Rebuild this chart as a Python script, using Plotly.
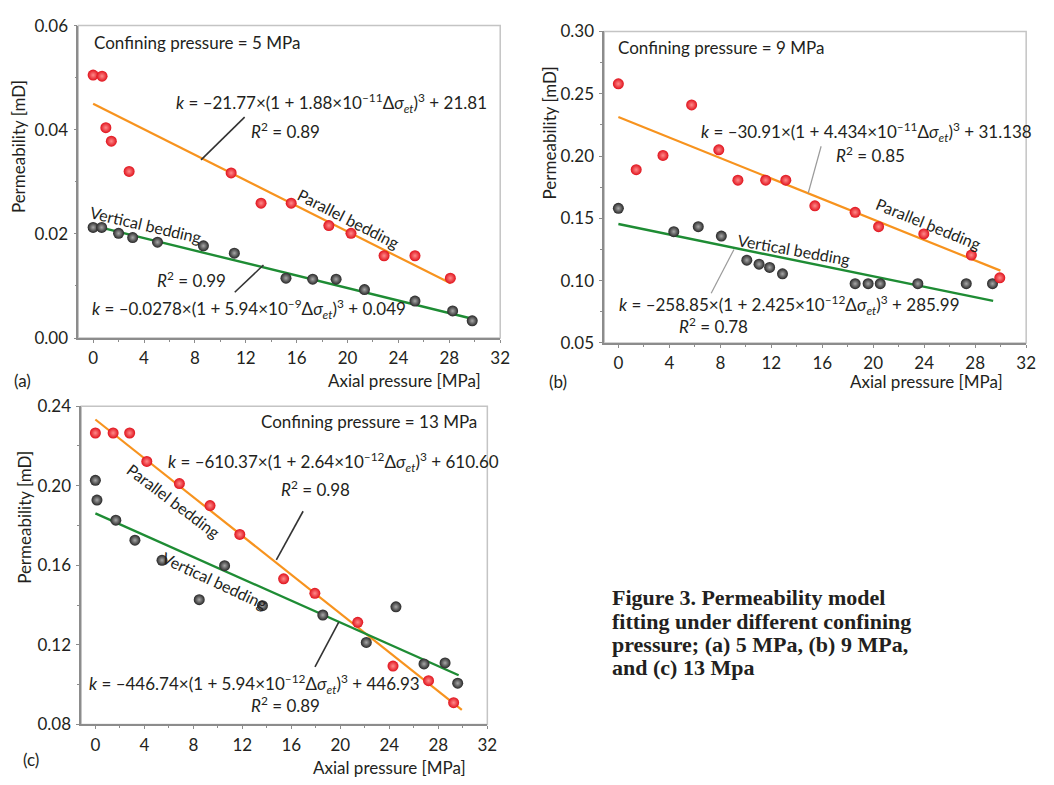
import plotly.graph_objects as go

W, H = 1054, 785
FONT = "Lato"
TXT = "#231f20"

# ---------------- data ----------------
# (a) confining pressure 5 MPa
a_par_x = [0, 0.7, 1.0, 1.43, 2.83, 10.85, 13.2, 15.57, 18.53, 20.27, 22.87, 25.3, 28.08]
a_par_y = [0.0505, 0.0503, 0.0404, 0.0378, 0.0320, 0.0317, 0.0259, 0.0259, 0.0216, 0.0201, 0.0158, 0.0158, 0.0115]
a_ver_x = [0, 0.67, 2.0, 3.11, 5.06, 8.67, 11.1, 15.16, 17.26, 19.1, 21.33, 25.3, 28.26, 29.8]
a_ver_y = [0.02125, 0.02125, 0.0201, 0.0193, 0.0184, 0.0177, 0.0163, 0.0115, 0.0113, 0.0113, 0.0093, 0.0071, 0.0052, 0.0033]
a_fit_par_x = [0, 28.1]
a_fit_par_y = [0.0450, 0.0105]
a_fit_ver_x = [0, 29.8]
a_fit_ver_y = [0.0216, 0.0037]

# (b) confining pressure 9 MPa
b_par_x = [0, 1.4, 3.5, 5.75, 7.88, 9.38, 11.56, 13.14, 15.42, 18.58, 20.42, 23.97, 27.7, 29.93]
b_par_y = [0.258, 0.189, 0.2005, 0.241, 0.205, 0.1806, 0.1806, 0.1806, 0.160, 0.1548, 0.1433, 0.1375, 0.1205, 0.1022]
b_ver_x = [0, 4.35, 6.27, 8.08, 10.08, 11.04, 11.87, 12.88, 18.58, 19.6, 20.55, 23.5, 27.3, 29.36]
b_ver_y = [0.158, 0.1393, 0.1433, 0.1357, 0.1164, 0.1132, 0.1106, 0.1054, 0.0975, 0.0975, 0.0975, 0.0975, 0.0975, 0.0975]
b_fit_par_x = [0, 29.98]
b_fit_par_y = [0.2313, 0.108]
b_fit_ver_x = [0, 29.41]
b_fit_ver_y = [0.1454, 0.0837]

# (c) confining pressure 13 MPa
c_par_x = [0, 1.45, 2.8, 4.2, 6.86, 9.36, 11.79, 15.37, 17.92, 21.42, 24.3, 27.2, 29.25]
c_par_y = [0.2265, 0.2265, 0.2265, 0.2122, 0.2011, 0.190, 0.1755, 0.1532, 0.1459, 0.1313, 0.1093, 0.102, 0.0909]
c_ver_x = [0, 0.13, 1.67, 3.23, 5.44, 8.48, 10.55, 13.64, 18.57, 22.12, 24.54, 26.83, 28.55, 29.58]
c_ver_y = [0.2027, 0.1928, 0.1827, 0.1726, 0.1625, 0.1427, 0.1598, 0.1397, 0.135, 0.1212, 0.1391, 0.1104, 0.1109, 0.1007]
c_fit_par_x = [0, 29.92]
c_fit_par_y = [0.2333, 0.0873]
c_fit_ver_x = [0, 29.66]
c_fit_ver_y = [0.1861, 0.1047]

x_ticks = [0, 4, 8, 12, 16, 20, 24, 28, 32]

# ---------------- styling ----------------
ORANGE = "#f7931e"
GREEN = "#1e8c34"
RED = "#e0121c"
RED_HI = "#ff8a8a"
BLK = "#262626"
BLK_HI = "#a8a8a8"


def P(px, py):
    return px / W, 1 - py / H


fig = go.Figure()

panels = [
    ("", a_par_x, a_par_y, a_ver_x, a_ver_y, a_fit_par_x, a_fit_par_y, a_fit_ver_x, a_fit_ver_y),
    ("2", b_par_x, b_par_y, b_ver_x, b_ver_y, b_fit_par_x, b_fit_par_y, b_fit_ver_x, b_fit_ver_y),
    ("3", c_par_x, c_par_y, c_ver_x, c_ver_y, c_fit_par_x, c_fit_par_y, c_fit_ver_x, c_fit_ver_y),
]

for suf, px_, py_, vx, vy, fpx, fpy, fvx, fvy in panels:
    xa, ya = "x" + suf, "y" + suf
    fig.add_trace(go.Scatter(x=fpx, y=fpy, mode="lines", line=dict(color=ORANGE, width=2.2),
                             xaxis=xa, yaxis=ya, showlegend=False, hoverinfo="skip"))
    fig.add_trace(go.Scatter(x=fvx, y=fvy, mode="lines", line=dict(color=GREEN, width=2.4),
                             xaxis=xa, yaxis=ya, showlegend=False, hoverinfo="skip"))
    fig.add_trace(go.Scatter(x=vx, y=vy, mode="markers",
                             marker=dict(size=11, color=BLK, line=dict(width=0),
                                         gradient=dict(type="radial", color=BLK_HI)),
                             xaxis=xa, yaxis=ya, showlegend=False, cliponaxis=False))
    fig.add_trace(go.Scatter(x=px_, y=py_, mode="markers",
                             marker=dict(size=11, color=RED, line=dict(width=0),
                                         gradient=dict(type="radial", color=RED_HI)),
                             xaxis=xa, yaxis=ya, showlegend=False, cliponaxis=False))

# axes geometry (pixels of the reference)
boxes = {
    "": dict(l=79, r=505, t=15, b=336, xr=[-1.17, 32.001], yr=[0, 0.06001], dt=0.02, mdt=0.01),
    "2": dict(l=610, r=1036, t=21, b=341, xr=[-1.11, 32.001], yr=[0.05, 0.30001], dt=0.05, mdt=0.025),
    "3": dict(l=82, r=492, t=406, b=733, xr=[-1.155, 32.001], yr=[0.08, 0.24001], dt=0.04, mdt=0.02),
}

axis_common = dict(showgrid=False, zeroline=False, showline=True, linecolor="#8c8c8c", linewidth=1.5,
                   ticks="outside", ticklen=3, tickcolor="#8c8c8c", tickwidth=1,
                   tickfont=dict(family=FONT, size=17, color=TXT))

layout_axes = {}
for suf, b in boxes.items():
    x0, y1 = P(b["l"], b["t"])
    x1, y0 = P(b["r"], b["b"])
    layout_axes["xaxis" + suf] = dict(domain=[x0, x1], range=b["xr"], anchor="y" + suf,
                                      tickvals=x_ticks, ticklabelstandoff=1,
                                      minor=dict(dtick=2, tick0=0, ticks="outside", ticklen=2, tickcolor="#8c8c8c"),
                                      **axis_common)
    layout_axes["yaxis" + suf] = dict(domain=[y0, y1], range=b["yr"], anchor="x" + suf,
                                      dtick=b["dt"], tick0=0, tickformat=".2f", ticklabelstandoff=2,
                                      minor=dict(dtick=b["mdt"], tick0=0, ticks="outside", ticklen=2, tickcolor="#8c8c8c"),
                                      **axis_common)
    fig.add_shape(type="rect", xref="x" + suf + " domain", yref="y" + suf + " domain",
                  x0=0, x1=1, y0=0, y1=1, line=dict(color="#c4c4c4", width=1.5), layer="below")

annotations = []


def ann(text, px, py, xanchor="left", angle=0, size=17, family=FONT, color=TXT, yanchor="middle"):
    x, y = P(px, py)
    annotations.append(dict(text=text, x=x, y=y, xref="paper", yref="paper", showarrow=False,
                            xanchor=xanchor, yanchor=yanchor, textangle=angle, borderpad=0,
                            font=dict(family=family, size=size, color=color)))


def leader(p0, p1, color="#333333", width=1.6):
    x0, y0 = P(*p0)
    x1, y1 = P(*p1)
    fig.add_shape(type="line", xref="paper", yref="paper", x0=x0, y0=y0, x1=x1, y1=y1,
                  line=dict(color=color, width=width))


def eq(a, b, e, c):
    return ("<i>k</i> = –%s×(1 + %s×10<sup>–%s</sup>Δ<i>σ</i><sub><i>et</i></sub>)<sup>3</sup> + %s"
            % (a, b, e, c))


R2 = "<i>R</i><sup>2</sup> = %s"

# panel (a)
ann("Confining pressure = 5 MPa", 94, 32)
ann(eq("21.77", "1.88", "11", "21.81"), 177, 95)
ann(R2 % "0.89", 252, 123)
leader((247, 109), (203, 153))
ann("Parallel bedding", 352, 213, "center", 27, 16)
ann("Vertical bedding", 147, 219, "center", 13, 16)
ann(R2 % "0.99", 157, 276)
leader((266, 261), (237, 289))
ann(eq("0.0278", "5.94", "9", "0.049"), 92, 306)
ann("(a)", 13, 380)
ann("Axial pressure [MPa]", 330, 380)
ann("Permeability [mD]", 18, 139, "center", -90)

# panel (b)
ann("Confining pressure = 9 MPa", 623, 38)
ann(eq("30.91", "4.434", "11", "31.138"), 707, 124)
ann(R2 % "0.85", 843, 147)
leader((829, 139), (816, 187), "#9a9a9a", 1.2)
ann("Parallel bedding", 937, 218, "center", 22, 16)
ann("Vertical bedding", 802, 245, "center", 10, 16)
leader((741, 245), (718, 290), "#9a9a9a", 1.2)
ann(eq("258.85", "2.425", "12", "285.99"), 624, 302)
ann(R2 % "0.78", 684, 323)
ann("(b)", 553, 381)
ann("Axial pressure [MPa]", 857, 381)
ann("Permeability [mD]", 555, 125, "center", -90)

# panel (c)
ann("Confining pressure = 13 MPa", 483, 422, "right")
ann(eq("610.37", "2.64", "12", "610.60"), 169, 463)
ann(R2 % "0.98", 283, 491)
leader((306, 514), (279, 564))
ann("Parallel bedding", 175, 503, "center", 37, 16)
ann("Vertical bedding", 217, 585, "center", 25, 16)
leader((342, 628), (318, 674))
ann(eq("446.74", "5.94", "12", "446.93"), 89, 692)
ann(R2 % "0.89", 252, 713)
ann("(c)", 22, 769)
ann("Axial pressure [MPa]", 315, 777)
ann("Permeability [mD]", 24, 520, "center", -90)

# caption
cap = ["Figure 3. Permeability model", "fitting under different confining",
       "pressure; (a) 5 MPa, (b) 9 MPa,", "and (c) 13 Mpa"]
for i, line in enumerate(cap):
    ann("<b>%s</b>" % line, 617, 603 + i * 24, size=22, family="Liberation Serif", color="#231f20")

fig.update_layout(width=W, height=H, autosize=False, margin=dict(l=0, r=0, t=0, b=0),
                  paper_bgcolor="white", plot_bgcolor="white",
                  annotations=annotations, **layout_axes)

fig.write_html("out.html", config={"displayModeBar": False, "responsive": False},
               post_script=("document.body.style.margin='0px';"
                            "document.body.style.overflow='hidden';"
                            "document.documentElement.style.overflow='hidden';"))
